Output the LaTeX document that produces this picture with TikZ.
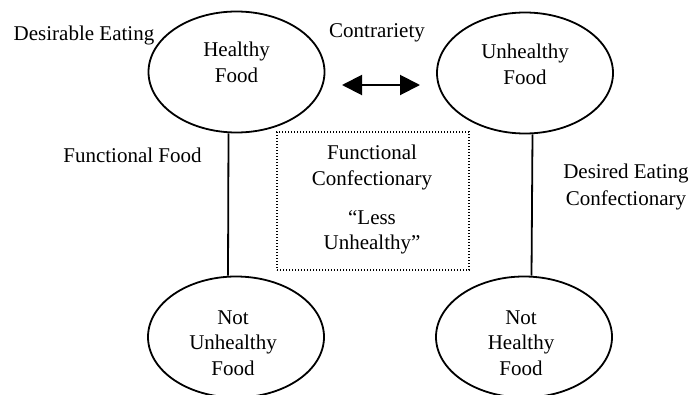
\documentclass[tikz,border=0pt]{standalone}
\usepackage{fontspec}
\setmainfont{Liberation Serif}
\usetikzlibrary{shapes.geometric,arrows.meta}

\tikzset{
  oval/.style={ellipse, draw, line width=1.8pt, minimum width=176pt, minimum height=121pt, inner sep=0pt},
  txt/.style={align=center, inner sep=0pt, font=\fontsize{21}{25.5}\selectfont},
  link/.style={line width=1.8pt},
  dotbox/.style={draw, line width=1.4pt, dash pattern=on 1.3pt off 1.7pt},
  biarrow/.style={line width=2pt, {Triangle[length=20pt,width=20pt]}-{Triangle[length=20pt,width=20pt]}}
}

\begin{document}
\begin{tikzpicture}[x=1pt, y=-1pt]
  \useasboundingbox (0,0) rectangle (693,394);

  % the four ellipses of the square
  \node[oval] (hf) at (236.5,72) {};
  \node[oval] (uf) at (525,73) {};
  \node[oval] (nu) at (236,337) {};
  \node[oval] (nh) at (524,337) {};

  % texts inside the ellipses
  \node[txt] (hft) at (236.5,62.5) {Healthy\\Food};
  \node[txt] (uft) at (525,64.5) {Unhealthy\\Food};
  \node[txt] (nut) at (233,343) {Not\\Unhealthy\\Food};
  \node[txt] (nht) at (521,343) {Not\\Healthy\\Food};

  % vertical links
  \draw[link] ([xshift=-8pt]hf.south) -- ([xshift=-8pt]nu.north);
  \draw[link] ([xshift=7.5pt]uf.south) -- ([xshift=7.5pt]nh.north);

  % contrariety arrow
  \coordinate (al) at (342,85);
  \coordinate (ar) at (420,85);
  \draw[biarrow] (al) -- (ar);

  % central dotted box
  \node[dotbox, minimum width=192pt, minimum height=138pt, inner sep=0pt] (box) at (373,201) {};
  \node[txt] (boxa) at (372,167.5) {Functional\\Confectionary};
  \node[txt] (boxb) at (372,232.5) {“Less\\Unhealthy”};

  % outer labels
  \node[txt] (de) at (84,35) {Desirable Eating};
  \node[txt] (co) at (377,33) {Contrariety};
  \node[txt] (ff) at (132.5,155) {Functional Food};
  \node[txt, font=\fontsize{21}{27}\selectfont] (dc) at (626,186.5) {Desired Eating\\Confectionary};
\end{tikzpicture}
\end{document}
